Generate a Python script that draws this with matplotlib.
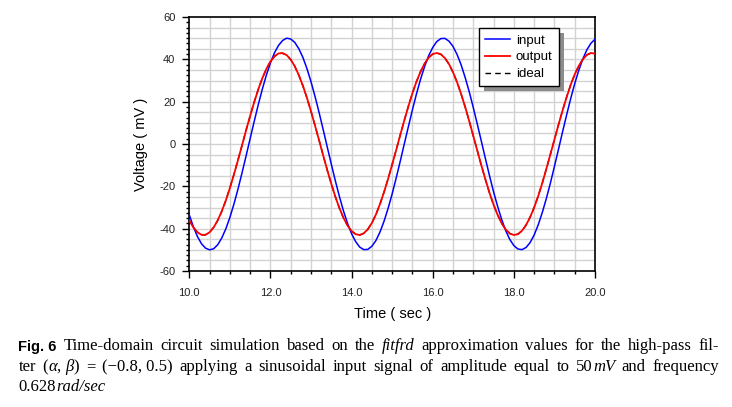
import matplotlib
matplotlib.use("Agg")
import matplotlib.pyplot as plt
import numpy as np
from matplotlib.patches import Rectangle
from matplotlib.ticker import MultipleLocator, FormatStrFormatter

plt.rcParams["axes.unicode_minus"] = False

# time axis, 0.1 s steps from 10 to 20
t = np.round(np.arange(10.0, 20.0001, 0.1), 1)

# values (mV)
v_input = [-33.5, -39.1, -43.7, -47.1, -49.2, -50.0, -49.5, -47.6, -44.4, -40.1,
           -34.7, -28.4, -21.3, -13.6, -5.6, 2.6, 10.7, 18.6, 25.9, 32.6,
           38.3, 43.1, 46.6, 48.9, 50.0, 49.6, 48.0, 45.0, 40.9, 35.6,
           29.4, 22.4, 14.8, 6.8, -1.4, -9.5, -17.4, -24.8, -31.6, -37.5,
           -42.4, -46.1, -48.7, -49.9, -49.8, -48.3, -45.6, -41.6, -36.5, -30.4,
           -23.6, -16.0, -8.1, 0.1, 8.2, 16.2, 23.7, 30.6, 36.6, 41.7,
           45.6, 48.4, 49.8, 49.9, 48.6, 46.1, 42.3, 37.4, 31.4, 24.7,
           17.2, 9.3, 1.2, -7.0, -15.0, -22.6, -29.5, -35.7, -41.0, -45.1,
           -48.0, -49.6, -49.9, -48.9, -46.6, -43.0, -38.2, -32.4, -25.8, -18.5,
           -10.6, -2.5, 5.7, 13.7, 21.4, 28.5, 34.8, 40.2, 44.5, 47.6, 49.5]

v_output = [-36.1, -39.4, -41.7, -42.9, -42.9, -41.7, -39.4, -36.1, -31.8, -26.7,
            -20.8, -14.4, -7.6, -0.6, 6.5, 13.3, 19.8, 25.8, 31.1, 35.5,
            39.0, 41.4, 42.8, 42.9, 42.0, 39.9, 36.7, 32.5, 27.5, 21.8,
            15.4, 8.6, 1.7, -5.4, -12.3, -18.8, -24.9, -30.3, -34.9, -38.5,
            -41.1, -42.6, -43.0, -42.2, -40.3, -37.3, -33.3, -28.4, -22.7, -16.5,
            -9.7, -2.8, 4.3, 11.2, 17.8, 24.0, 29.5, 34.2, 38.0, 40.8,
            42.5, 43.0, 42.4, 40.6, 37.8, 33.9, 29.2, 23.6, 17.5, 10.8,
            3.8, -3.2, -10.2, -16.8, -23.1, -28.7, -33.5, -37.5, -40.4, -42.3,
            -43.0, -42.6, -41.0, -38.3, -34.6, -30.0, -24.6, -18.5, -11.8, -4.9,
            2.1, 9.1, 15.8, 22.1, 27.9, 32.9, 36.9, 40.0, 42.1, 43.0, 42.7]

# ideal response lies under the output curve
v_ideal = list(v_output)

W, H = 732, 407
fig = plt.figure(figsize=(W / 100, H / 100), dpi=100)
ax = fig.add_axes([189.3 / W, (H - 271) / H, (595 - 189.3) / W, (271 - 17) / H])

ax.plot(t, v_ideal, color="black", lw=1.0, ls=(0, (4, 3)), label="ideal", zorder=2)
ax.plot(t, v_input, color="#0000ff", lw=1.1, label="input", zorder=3)
ax.plot(t, v_output, color="#ff0000", lw=1.3, label="output", zorder=4)

ax.set_xlim(10, 20)
ax.set_ylim(-60, 60)
ax.xaxis.set_major_locator(MultipleLocator(2))
ax.xaxis.set_minor_locator(MultipleLocator(0.5))
ax.yaxis.set_major_locator(MultipleLocator(20))
ax.yaxis.set_minor_locator(MultipleLocator(2.5))
ax.xaxis.set_major_formatter(FormatStrFormatter("%.1f"))

for x in np.arange(10.5, 20, 0.5):
    ax.axvline(x, color="#d2d2d2", lw=1.0, zorder=0)
for y in np.arange(-55, 60, 5):
    ax.axhline(y, color="#d2d2d2", lw=1.0, zorder=0)

tickfont = "Liberation Sans"
ax.tick_params(which="major", direction="out", length=5, width=1, labelsize=8, pad=5)
ax.tick_params(which="minor", direction="out", length=2.5, width=1)
ax.tick_params(axis="x", which="major", pad=7)
for lab in ax.get_xticklabels() + ax.get_yticklabels():
    lab.set_fontfamily(tickfont)
    lab.set_color("#222222")
for s in ax.spines.values():
    s.set_linewidth(1.2)

ax.set_xlabel("Time ( sec )", fontfamily=tickfont, fontsize=10.5, labelpad=7)
ax.set_ylabel("Voltage ( mV )", fontfamily=tickfont, fontsize=10.5, labelpad=8)

h, l = ax.get_legend_handles_labels()
order = [1, 2, 0]
leg = ax.legend([h[i] for i in order], [l[i] for i in order],
                loc="upper left", bbox_to_anchor=(0.714, 0.955),
                prop={"family": tickfont, "size": 9.5}, frameon=True,
                fancybox=False, edgecolor="black", framealpha=1,
                borderaxespad=0, handlelength=1.9, handletextpad=0.45,
                labelspacing=0.35, borderpad=0.45)
leg.get_frame().set_linewidth(1.0)
leg.set_zorder(6)

fig.canvas.draw()
rend = fig.canvas.get_renderer()

# grey drop shadow behind the legend box
bb = leg.get_window_extent(rend)
inv = ax.transAxes.inverted()
(x0, y0) = inv.transform((bb.x0 + 5, bb.y0 - 5))
(x1, y1) = inv.transform((bb.x1 + 5, bb.y1 - 5))
ax.add_patch(Rectangle((x0, y0), x1 - x0, y1 - y0, transform=ax.transAxes,
                       facecolor="#8c8c8c", edgecolor="none", zorder=5.5, clip_on=False))

# caption, justified like the journal text
serif = "Liberation Serif"
cap_size = 12
line1 = [[("Fig. 6", "bold")], [("Time-domain", "n")], [("circuit", "n")], [("simulation", "n")],
         [("based", "n")], [("on", "n")], [("the", "n")], [("fitfrd", "i")],
         [("approximation", "n")], [("values", "n")], [("for", "n")], [("the", "n")],
         [("high-pass", "n")], [("fil-", "n")]]
line2 = [[("ter", "n")], [("(", "n"), ("α", "i"), (", ", "n"), ("β", "i"), (")", "n")],
         [("=", "n")], [("(−0.8, 0.5)", "n")], [("applying", "n")], [("a", "n")],
         [("sinusoidal", "n")], [("input", "n")], [("signal", "n")], [("of", "n")],
         [("amplitude", "n")], [("equal", "n")], [("to", "n")], [("50", "n"), ("mV", "i")],
         [("and", "n")], [("frequency", "n")]]
line3 = [[("0.628", "n"), ("rad/sec", "i")]]


def make_piece(txt, kind):
    if kind == "bold":
        return fig.text(0, 0, txt, fontfamily=tickfont, fontweight="bold",
                        fontsize=10.5, va="baseline", ha="left")
    style = "italic" if kind == "i" else "normal"
    return fig.text(0, 0, txt, fontfamily=serif, fontstyle=style,
                    fontsize=cap_size, va="baseline", ha="left")


def place_line(words, ybase, x_left, x_right, justify):
    built = []
    total = 0.0
    for w in words:
        pieces = []
        wlen = 0.0
        for txt, kind in w:
            tx = make_piece(txt, kind)
            pw = tx.get_window_extent(rend).width
            pieces.append((tx, pw))
            wlen += pw
        built.append((pieces, wlen))
        total += wlen
    if justify and len(built) > 1:
        gap = (x_right - x_left - total) / (len(built) - 1)
    else:
        gap = 3.0
    x = x_left
    for pieces, wlen in built:
        for tx, pw in pieces:
            tx.set_position((x / W, 1 - ybase / H))
            x += pw
        x += gap


place_line(line1, 350.5, 18.5, 719, True)
place_line(line2, 371, 18.5, 719, True)
place_line(line3, 391, 18.5, 719, False)

fig.savefig("out.png", dpi=100)
